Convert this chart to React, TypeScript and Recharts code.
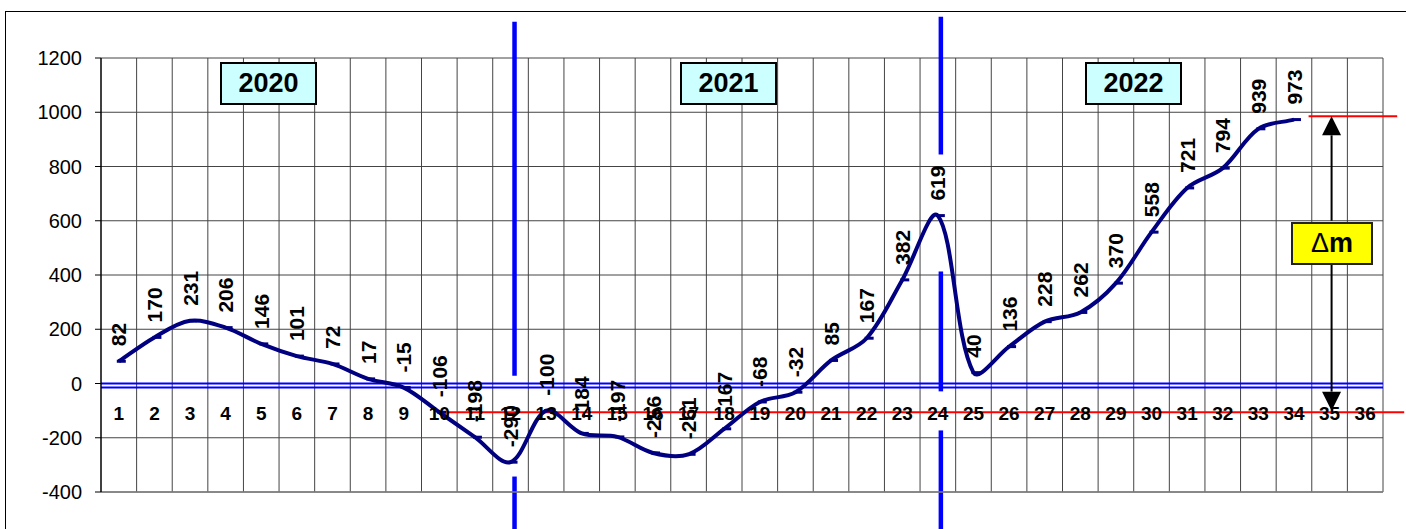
import React from 'react';
import {
  LineChart,
  Line,
  XAxis,
  YAxis,
  CartesianGrid,
  ReferenceLine,
  LabelList,
} from 'recharts';

const FONT = "'Liberation Sans', Arial, sans-serif";

const periods = [
  '1', '2', '3', '4', '5', '6', '7', '8', '9', '10', '11', '12',
  '13', '14', '15', '16', '17', '18', '19', '20', '21', '22', '23', '24',
  '25', '26', '27', '28', '29', '30', '31', '32', '33', '34', '35', '36',
];

const values: (number | null)[] = [
  82, 170, 231, 206, 146, 101, 72, 17, -15, -106, -198, -290,
  -100, -184, -197, -256, -261, -167, -68, -32, 85, 167, 382, 619,
  40, 136, 228, 262, 370, 558, 721, 794, 939, 973, null, null,
];

const yTicks = [-400, -200, 0, 200, 400, 600, 800, 1000, 1200];
const years = ['2020', '2021', '2022'];

const data = periods.map((p, i) => ({ period: p, value: values[i] }));

const PLOT_W = 1282;
const HALF_STEP = PLOT_W / periods.length / 2;

// smoothing close to Excel's: bezier handles scaled by neighbouring chord lengths
const excelCurve = (context: any) => {
  let pts: number[][] = [];
  const dist = (a: number[], b: number[]) => Math.hypot(b[0] - a[0], b[1] - a[1]);
  return {
    areaStart() {},
    areaEnd() {},
    lineStart() {
      pts = [];
    },
    point(x: number, y: number) {
      pts.push([+x, +y]);
    },
    lineEnd() {
      const n = pts.length;
      if (!n) return;
      context.moveTo(pts[0][0], pts[0][1]);
      for (let i = 0; i < n - 1; i++) {
        const p0 = pts[i - 1] || pts[i];
        const p1 = pts[i];
        const p2 = pts[i + 1];
        const p3 = pts[i + 2] || pts[i + 1];
        const d01 = dist(p0, p1);
        const d12 = dist(p1, p2);
        const d23 = dist(p2, p3);
        const a = d01 + d12 > 0 ? d12 / (d01 + d12) / 3 : 0;
        const b = d12 + d23 > 0 ? d12 / (d12 + d23) / 3 : 0;
        context.bezierCurveTo(
          p1[0] + (p2[0] - p0[0]) * a,
          p1[1] + (p2[1] - p0[1]) * a,
          p2[0] - (p3[0] - p1[0]) * b,
          p2[1] - (p3[1] - p1[1]) * b,
          p2[0],
          p2[1]
        );
      }
    },
  };
};

const renderDot = (props: any) => {
  const { cx, cy, index } = props;
  if (cx == null || cy == null || props.value == null) return <g key={`d${index}`} />;
  return <rect key={`d${index}`} x={cx - 2} y={cy - 1.5} width={9} height={3} fill="#000080" />;
};

const renderValueLabel = (props: any) => {
  const { value, index } = props;
  if (value == null) return null;
  const px = props.viewBox?.x ?? props.x;
  const py = props.viewBox?.y ?? props.y;
  return (
    <text
      key={`l${index}`}
      transform={`translate(${px},${py - 15}) rotate(-90)`}
      dy="0.36em"
      textAnchor="start"
      fontFamily={FONT}
      fontWeight="bold"
      fontSize={21}
      fill="#000"
    >
      {value}
    </text>
  );
};

const renderXTick = (props: any) => {
  const { x, y, payload } = props;
  return (
    <text x={x} y={y - 72} textAnchor="middle" fontFamily={FONT} fontWeight="bold" fontSize={19} fill="#000">
      {payload.value}
    </text>
  );
};

const redLine = (dx1: number, dx2: number) => (p: any) => (
  <line x1={p.x1 + dx1} y1={p.y1} x2={p.x2 + dx2} y2={p.y2} stroke="#ff0000" strokeWidth={2} />
);

const blueBar = (dx: number) => (p: any) => (
  <line x1={p.x1 + dx} y1={p.y1} x2={p.x2 + dx} y2={p.y2} stroke="#0000ff" strokeWidth={4.5} />
);

const arrow = (p: any) => {
  const x = p.x1 + 2;
  const dir = p.y2 > p.y1 ? 1 : -1;
  const head = 19;
  const baseY = p.y2 - dir * head;
  return (
    <g>
      <line x1={x} y1={p.y1} x2={x} y2={baseY} stroke="#000" strokeWidth={2} />
      <polygon points={`${x - 9.5},${baseY} ${x + 9.5},${baseY} ${x},${p.y2}`} fill="#000" />
    </g>
  );
};

const yearBoxes = [
  { label: years[0], left: 220 },
  { label: years[1], left: 680 },
  { label: years[2], left: 1085 },
];

export default function App() {
  return (
    <div style={{ position: 'absolute', left: 0, top: 0, width: 1406, height: 529, overflow: 'hidden', background: '#fff' }}>
      <div
        style={{
          position: 'absolute',
          left: 5,
          top: 11,
          width: 1500,
          height: 700,
          borderTop: '1.5px solid #000',
          borderLeft: '1.5px solid #000',
        }}
      />
      <div style={{ position: 'absolute', left: 0, top: 0 }}>
        <LineChart width={1406} height={529} data={data} margin={{ top: 58, right: 23, bottom: 36, left: 0 }}>
          <CartesianGrid
            stroke="#444"
            strokeWidth={1}
            verticalCoordinatesGenerator={({ offset }: any) =>
              periods.map((_, i) => offset.left + ((i + 1) * offset.width) / periods.length)
            }
          />
          <XAxis
            dataKey="period"
            interval={0}
            height={1}
            padding={{ left: HALF_STEP, right: HALF_STEP }}
            tickLine={false}
            tickSize={0}
            tickMargin={0}
            axisLine={{ stroke: '#808080', strokeWidth: 1.5 }}
            tick={renderXTick}
          />
          <YAxis
            type="number"
            domain={[-400, 1200]}
            ticks={yTicks}
            interval={0}
            width={101}
            tickSize={6}
            tickMargin={13}
            axisLine={{ stroke: '#000', strokeWidth: 1.5 }}
            tickLine={{ stroke: '#000' }}
            tick={{ fill: '#000', fontSize: 20, fontFamily: FONT }}
          />
          <ReferenceLine y={0} stroke="#0000ff" strokeWidth={2} />
          <ReferenceLine y={-15} stroke="#0000ff" strokeWidth={2} />
          <ReferenceLine
            segment={[{ x: '10', y: -106 }, { x: '36', y: -106 }]}
            ifOverflow="visible"
            shape={redLine(8, 39)}
          />
          <ReferenceLine
            segment={[{ x: '35', y: 985 }, { x: '36', y: 985 }]}
            ifOverflow="visible"
            shape={redLine(-21, 32)}
          />
          <ReferenceLine segment={[{ x: '35', y: 600 }, { x: '35', y: 985 }]} ifOverflow="visible" shape={arrow} />
          <ReferenceLine segment={[{ x: '35', y: 438 }, { x: '35', y: -100 }]} ifOverflow="visible" shape={arrow} />
          <ReferenceLine segment={[{ x: '12', y: 1334 }, { x: '12', y: 29 }]} ifOverflow="visible" shape={blueBar(4)} />
          <ReferenceLine segment={[{ x: '12', y: -343 }, { x: '12', y: -560 }]} ifOverflow="visible" shape={blueBar(4)} />
          <ReferenceLine segment={[{ x: '24', y: 1352 }, { x: '24', y: 844 }]} ifOverflow="visible" shape={blueBar(3)} />
          <ReferenceLine segment={[{ x: '24', y: 413 }, { x: '24', y: -29 }]} ifOverflow="visible" shape={blueBar(3)} />
          <ReferenceLine segment={[{ x: '24', y: -173 }, { x: '24', y: -560 }]} ifOverflow="visible" shape={blueBar(3)} />
          <Line
            dataKey="value"
            type={excelCurve as any}
            stroke="#000080"
            strokeWidth={4}
            dot={renderDot}
            activeDot={false}
            isAnimationActive={false}
          >
            <LabelList dataKey="value" content={renderValueLabel} />
          </Line>
        </LineChart>
      </div>
      {yearBoxes.map((b) => (
        <div
          key={b.label}
          style={{
            position: 'absolute',
            left: b.left,
            top: 62,
            width: 97,
            height: 43,
            boxSizing: 'border-box',
            border: '2px solid #000',
            background: '#ccffff',
            fontFamily: FONT,
            fontWeight: 'bold',
            fontSize: 27,
            lineHeight: '39px',
            textAlign: 'center',
            color: '#000',
          }}
        >
          {b.label}
        </div>
      ))}
      <div
        style={{
          position: 'absolute',
          left: 1291,
          top: 222,
          width: 82,
          height: 43,
          boxSizing: 'border-box',
          border: '2px solid #222',
          background: '#ffff00',
          fontFamily: FONT,
          fontSize: 27,
          lineHeight: '39px',
          textAlign: 'center',
          color: '#000',
        }}
      >
        <span style={{ fontWeight: 'normal' }}>Δ</span>
        <span style={{ fontWeight: 'bold' }}>m</span>
      </div>
    </div>
  );
}
